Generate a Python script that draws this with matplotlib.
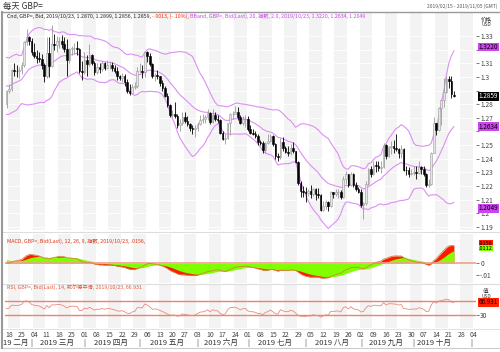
import numpy as np
import pandas as pd
import matplotlib
matplotlib.use('Agg')
import matplotlib.pyplot as plt
from matplotlib.lines import Line2D
from matplotlib.transforms import offset_copy

plt.rcParams['font.family'] = ['Noto Sans CJK SC', 'DejaVu Sans']

# closes before the visible window (Dec 2018 - 14 Feb 2019), only used to warm up the indicators
prev_closes = [
    1.2730, 1.2720, 1.2740, 1.2785, 1.2735,
    1.2560, 1.2490, 1.2635, 1.2650, 1.2580,
    1.2630, 1.2645, 1.2635, 1.2665, 1.2650,
    1.2670, 1.2675, 1.2640, 1.2645, 1.2710,
    1.2755, 1.2755, 1.2615, 1.2640, 1.2725,
    1.2795, 1.2730, 1.2750, 1.2760, 1.2840,
    1.2865, 1.2870, 1.2875, 1.2990, 1.2880,
    1.2880, 1.2960, 1.3040, 1.3070, 1.3195,
    1.3160, 1.3080, 1.3115, 1.3120, 1.3080,
    1.3045, 1.2940, 1.2940, 1.2950, 1.2940,
    1.2880, 1.2935, 1.2890, 1.2810,
]

# daily GBP= candles, 15 Feb 2019 - 23 Oct 2019 (one row per week)
opens = [
    1.2805,
    1.2895, 1.2915, 1.3050, 1.3047, 1.3040,
    1.3050, 1.3085, 1.3255, 1.3295, 1.3260,
    1.3180, 1.3155, 1.3140, 1.3130, 1.3085,
    1.3010, 1.3175, 1.3080, 1.3245, 1.3235,
    1.3260, 1.3265, 1.3245, 1.3205, 1.3125,
    1.3205, 1.3210, 1.3215, 1.3205, 1.3045,
    1.3033, 1.3125, 1.3095, 1.3160, 1.3105,
    1.3035, 1.3070, 1.3060, 1.3100, 1.3065,
    1.3085, 1.3090, 1.3065, 1.3045, 1.3005,
    1.2990, 1.3005, 1.2960, 1.2900, 1.2885,
    1.2925, 1.2935, 1.3040, 1.3045, 1.3035,
    1.3180, 1.3150, 1.3095, 1.3005, 1.3015,
    1.3005, 1.2955, 1.2920, 1.2860, 1.2795,
    1.2720, 1.2725, 1.2710, 1.2650, 1.2660,
    1.2705, 1.2680, 1.2655, 1.2625, 1.2615,
    1.2625, 1.2655, 1.2685, 1.2690, 1.2705,
    1.2735, 1.2670, 1.2720, 1.2690, 1.2685,
    1.2590, 1.2545, 1.2555, 1.2660, 1.2725,
    1.2730, 1.2740, 1.2705, 1.2660, 1.2690,
    1.2695, 1.2620, 1.2590, 1.2585, 1.2565,
    1.2520, 1.2515, 1.2465, 1.2515, 1.2530,
    1.2570, 1.2510, 1.2420, 1.2410, 1.2525,
    1.2480, 1.2450, 1.2440, 1.2480, 1.2455,
    1.2375, 1.2225, 1.2165, 1.2160, 1.2150,
    1.2165, 1.2145, 1.2175, 1.2145, 1.2135,
    1.2025, 1.2055, 1.2080, 1.2055, 1.2155,
    1.2140, 1.2155, 1.2160, 1.2120, 1.2250,
    1.2285, 1.2205, 1.2290, 1.2210, 1.2175,
    1.2160, 1.2060, 1.2075, 1.2215, 1.2325,
    1.2290, 1.2355, 1.2350, 1.2335, 1.2340,
    1.2500, 1.2420, 1.2485, 1.2490, 1.2480,
    1.2475, 1.2445, 1.2475, 1.2320, 1.2315,
    1.2290, 1.2295, 1.2305, 1.2295, 1.2340,
    1.2325, 1.2290, 1.2210, 1.2215, 1.2445,
    1.2665, 1.2610, 1.2770, 1.2830, 1.2890,
    1.2985, 1.2970, 1.2870,
]
highs = [
    1.2905,
    1.2950, 1.3060, 1.3100, 1.3090, 1.3070,
    1.3110, 1.3260, 1.3350, 1.3300, 1.3285,
    1.3250, 1.3200, 1.3180, 1.3170, 1.3100,
    1.3290, 1.3290, 1.3380, 1.3315, 1.3300,
    1.3290, 1.3310, 1.3290, 1.3280, 1.3215,
    1.3230, 1.3250, 1.3265, 1.3210, 1.3120,
    1.3185, 1.3160, 1.3240, 1.3170, 1.3120,
    1.3100, 1.3100, 1.3120, 1.3110, 1.3125,
    1.3120, 1.3110, 1.3090, 1.3070, 1.3015,
    1.3030, 1.3020, 1.2985, 1.2945, 1.2945,
    1.2965, 1.3070, 1.3105, 1.3085, 1.3190,
    1.3190, 1.3175, 1.3105, 1.3030, 1.3050,
    1.3010, 1.2980, 1.2935, 1.2880, 1.2800,
    1.2760, 1.2815, 1.2730, 1.2690, 1.2745,
    1.2745, 1.2710, 1.2665, 1.2645, 1.2650,
    1.2670, 1.2720, 1.2730, 1.2720, 1.2765,
    1.2740, 1.2765, 1.2740, 1.2720, 1.2690,
    1.2605, 1.2585, 1.2665, 1.2735, 1.2750,
    1.2785, 1.2780, 1.2720, 1.2715, 1.2720,
    1.2710, 1.2650, 1.2620, 1.2600, 1.2580,
    1.2535, 1.2530, 1.2525, 1.2580, 1.2580,
    1.2575, 1.2515, 1.2440, 1.2555, 1.2560,
    1.2495, 1.2490, 1.2510, 1.2520, 1.2460,
    1.2385, 1.2235, 1.2200, 1.2190, 1.2175,
    1.2210, 1.2185, 1.2185, 1.2185, 1.2145,
    1.2090, 1.2095, 1.2090, 1.2165, 1.2160,
    1.2175, 1.2180, 1.2170, 1.2275, 1.2310,
    1.2290, 1.2300, 1.2295, 1.2230, 1.2190,
    1.2175, 1.2085, 1.2240, 1.2335, 1.2350,
    1.2385, 1.2385, 1.2385, 1.2380, 1.2515,
    1.2505, 1.2495, 1.2530, 1.2540, 1.2580,
    1.2480, 1.2500, 1.2480, 1.2345, 1.2340,
    1.2325, 1.2345, 1.2345, 1.2380, 1.2350,
    1.2345, 1.2295, 1.2250, 1.2450, 1.2705,
    1.2665, 1.2780, 1.2840, 1.2990, 1.3010,
    1.3010, 1.3010, 1.2899,
]
lows = [
    1.2775,
    1.2880, 1.2900, 1.3010, 1.3000, 1.2995,
    1.3025, 1.3070, 1.3235, 1.3235, 1.3160,
    1.3140, 1.3100, 1.3110, 1.3060, 1.2960,
    1.2990, 1.3003, 1.3070, 1.3195, 1.3180,
    1.3215, 1.3210, 1.3180, 1.3005, 1.3100,
    1.3160, 1.3170, 1.3160, 1.3030, 1.2980,
    1.3020, 1.3010, 1.3080, 1.3085, 1.3015,
    1.3020, 1.3030, 1.3040, 1.3050, 1.3060,
    1.3060, 1.3040, 1.3030, 1.2980, 1.2980,
    1.2960, 1.2935, 1.2880, 1.2865, 1.2880,
    1.2910, 1.2920, 1.3030, 1.2995, 1.3000,
    1.3110, 1.3080, 1.2995, 1.2970, 1.2985,
    1.2935, 1.2895, 1.2855, 1.2780, 1.2705,
    1.2705, 1.2700, 1.2625, 1.2605, 1.2650,
    1.2660, 1.2640, 1.2605, 1.2585, 1.2560,
    1.2600, 1.2650, 1.2660, 1.2665, 1.2685,
    1.2655, 1.2665, 1.2675, 1.2665, 1.2585,
    1.2535, 1.2505, 1.2545, 1.2575, 1.2690,
    1.2725, 1.2685, 1.2655, 1.2650, 1.2630,
    1.2605, 1.2580, 1.2575, 1.2555, 1.2500,
    1.2500, 1.2440, 1.2440, 1.2505, 1.2520,
    1.2495, 1.2400, 1.2380, 1.2400, 1.2460,
    1.2440, 1.2420, 1.2430, 1.2440, 1.2370,
    1.2210, 1.2120, 1.2120, 1.2080, 1.2125,
    1.2110, 1.2125, 1.2100, 1.2115, 1.2015,
    1.2015, 1.2030, 1.2015, 1.2045, 1.2110,
    1.2130, 1.2115, 1.2105, 1.2110, 1.2215,
    1.2190, 1.2200, 1.2190, 1.2165, 1.2150,
    1.2050, 1.1960, 1.2060, 1.2205, 1.2270,
    1.2280, 1.2305, 1.2310, 1.2295, 1.2330,
    1.2400, 1.2410, 1.2435, 1.2440, 1.2460,
    1.2405, 1.2405, 1.2310, 1.2280, 1.2270,
    1.2280, 1.2280, 1.2255, 1.2290, 1.2285,
    1.2275, 1.2195, 1.2195, 1.2205, 1.2440,
    1.2575, 1.2600, 1.2650, 1.2780, 1.2885,
    1.2920, 1.2845, 1.2856,
]
closes = [
    1.2895,
    1.2915, 1.3050, 1.3047, 1.3040, 1.3050,
    1.3085, 1.3255, 1.3295, 1.3260, 1.3180,
    1.3155, 1.3140, 1.3130, 1.3085, 1.3010,
    1.3175, 1.3080, 1.3245, 1.3235, 1.3260,
    1.3265, 1.3245, 1.3205, 1.3125, 1.3205,
    1.3210, 1.3215, 1.3205, 1.3045, 1.3033,
    1.3125, 1.3095, 1.3160, 1.3105, 1.3035,
    1.3070, 1.3060, 1.3100, 1.3065, 1.3085,
    1.3090, 1.3065, 1.3045, 1.3005, 1.2990,
    1.3005, 1.2960, 1.2900, 1.2885, 1.2925,
    1.2935, 1.3040, 1.3045, 1.3035, 1.3180,
    1.3150, 1.3095, 1.3005, 1.3015, 1.3005,
    1.2955, 1.2920, 1.2860, 1.2795, 1.2720,
    1.2725, 1.2710, 1.2650, 1.2660, 1.2705,
    1.2680, 1.2655, 1.2625, 1.2615, 1.2625,
    1.2655, 1.2685, 1.2690, 1.2705, 1.2735,
    1.2670, 1.2720, 1.2690, 1.2685, 1.2590,
    1.2545, 1.2555, 1.2660, 1.2725, 1.2730,
    1.2740, 1.2705, 1.2660, 1.2690, 1.2695,
    1.2620, 1.2590, 1.2585, 1.2565, 1.2520,
    1.2515, 1.2465, 1.2515, 1.2530, 1.2570,
    1.2510, 1.2420, 1.2410, 1.2525, 1.2480,
    1.2450, 1.2440, 1.2480, 1.2455, 1.2375,
    1.2225, 1.2165, 1.2160, 1.2150, 1.2165,
    1.2145, 1.2175, 1.2145, 1.2135, 1.2025,
    1.2055, 1.2080, 1.2055, 1.2155, 1.2140,
    1.2155, 1.2160, 1.2120, 1.2250, 1.2285,
    1.2205, 1.2290, 1.2210, 1.2175, 1.2160,
    1.2060, 1.2075, 1.2215, 1.2325, 1.2290,
    1.2355, 1.2350, 1.2335, 1.2340, 1.2500,
    1.2420, 1.2485, 1.2490, 1.2480, 1.2475,
    1.2445, 1.2475, 1.2320, 1.2315, 1.2290,
    1.2295, 1.2305, 1.2295, 1.2340, 1.2325,
    1.2290, 1.2210, 1.2215, 1.2445, 1.2665,
    1.2610, 1.2770, 1.2830, 1.2890, 1.2985,
    1.2970, 1.2872, 1.2859,
]

# last values as printed on the chart
bband_last = [1.3220, 1.2634, 1.2049]
bband_text = ['1.3220', '1.2634', '1.2049']
last_text = '1.2859'
macd_last = [0.0156, 0.0112]
macd_text = ['.0156', '.0112']
rsi_last = 66.931
rsi_levels = [70, 30]
price_ticks = [1.19, 1.20, 1.21, 1.22, 1.23, 1.24, 1.25, 1.26, 1.27, 1.28, 1.29, 1.30, 1.31, 1.32, 1.33]
month_names = ['19 二月', '2019 三月', '2019 四月', '2019 五月', '2019 六月',
               '2019 七月', '2019 八月', '2019 九月', '2019 十月']

dates = pd.bdate_range('2019-02-15', '2019-10-23')
axis_dates = pd.bdate_range('2019-02-15', '2019-11-05')
assert len(dates) == len(closes) == len(opens) == len(highs) == len(lows)

# indicators
allc = pd.Series(prev_closes + closes)
n0 = len(prev_closes)
mid = allc.ewm(span=20, adjust=False).mean()
sd = allc.rolling(20).std(ddof=0)
upper = (mid + 2 * sd).values[n0:]
lower = (mid - 2 * sd).values[n0:]
mid = mid.values[n0:]
macd = allc.ewm(span=12, adjust=False).mean() - allc.ewm(span=26, adjust=False).mean()
signal = macd.ewm(span=9, adjust=False).mean()
macd = macd.values[n0:]
signal = signal.values[n0:]
delta = allc.diff()
gain = delta.clip(lower=0).ewm(alpha=1 / 14, adjust=False).mean()
loss = (-delta.clip(upper=0)).ewm(alpha=1 / 14, adjust=False).mean()
rsi = (100 - 100 / (1 + gain / loss)).values[n0:]

W, H = 500, 352
fig = plt.figure(figsize=(W / 100, H / 100), dpi=100)


def rect(x0, y0, x1, y1):
    return [x0 / W, 1 - y1 / H, (x1 - x0) / W, (y1 - y0) / H]


def fx(x):
    return x / W


def fy(y):
    return 1 - y / H


ax = fig.add_axes(rect(5, 13, 476, 230))
ax2 = fig.add_axes(rect(5, 234, 476, 283), sharex=ax)
ax3 = fig.add_axes(rect(5, 285, 476, 328), sharex=ax)

x = np.arange(len(dates))
mondays = [i for i, d in enumerate(axis_dates) if d.weekday() == 0]
start = pd.Timestamp('2019-02-18')

for a in (ax, ax2, ax3):
    for i in mondays:
        if ((axis_dates[i] - start).days // 7) % 2 == 0:
            a.axvspan(i - 0.5, i + 4.5, color='#f3f3f3', lw=0, zorder=0)
    for s in a.spines.values():
        s.set_visible(False)
    a.set_xlim(-0.6, 186.8)
    a.tick_params(axis='y', left=False, labelleft=False, right=True, labelright=True,
                  length=2, width=0.5, pad=1, labelsize=4.8, colors='#444444')
    a.tick_params(axis='x', bottom=False, labelbottom=False)

# main price panel
ax.set_ylim(1.18778, 1.34686)
ax.set_yticks(price_ticks)
# labels hidden behind the value boxes are left blank
covered = [p for p in price_ticks
           if min(abs(p - v) for v in bband_last + [closes[-1]]) < 0.0045]
ax.set_yticklabels(['' if p in covered else '%g' % p for p in price_ticks])
for p in price_ticks:
    ax.axhline(p, color='white', lw=0.6, zorder=1)

o = np.array(opens)
h = np.array(highs)
l = np.array(lows)
c = np.array(closes)
up = c >= o
wick_col = np.where(up, '#9a9a9a', '#000000')
ax.vlines(x, l, h, colors=wick_col, lw=0.6, zorder=3)
body = np.maximum(np.abs(c - o), 0.0002)
ax.bar(x[up], body[up], bottom=np.minimum(o, c)[up], width=0.65,
       color='#e6e6e6', edgecolor='#9a9a9a', lw=0.4, zorder=4)
ax.bar(x[~up], body[~up], bottom=np.minimum(o, c)[~up], width=0.65,
       color='#000000', edgecolor='#000000', lw=0.4, zorder=4)

bcol = '#dd8ff5'
for band in (upper, mid, lower):
    ax.plot(x, band, color=bcol, lw=0.8, zorder=2)

ytr = ax.get_yaxis_transform()
ytr_low = offset_copy(ytr, fig=fig, y=-1.5, units='dots')
for v, t in zip(bband_last, bband_text):
    ax.text(1.006, v, t, transform=ytr_low if v < 1.21 else ytr, fontsize=4.6, va='center',
            ha='left', color='black',
            bbox=dict(boxstyle='square,pad=0.06', fc='#cc44ee', ec='none'), zorder=10, clip_on=False)
ax.text(1.006, closes[-1], last_text, transform=ytr, fontsize=4.6, va='center', ha='left', color='white',
        bbox=dict(boxstyle='square,pad=0.06', fc='black', ec='none'), zorder=10, clip_on=False)

# MACD panel
ax2.set_ylim(-0.01711, 0.02588)
ax2.set_yticks([0, -0.01])
ax2.set_yticklabels(['0', '-.01'])
ax2.fill_between(x, 0, macd, color='#ff1a00', lw=0, zorder=2)
ax2.fill_between(x, 0, signal, color='#80ff00', lw=0, zorder=3)
ax2.axhline(0, color='#f5a08a', lw=1.2, zorder=4)
ax2.plot(x, macd, color='#d88040', lw=0.6, zorder=5)
# the two boxes are stacked so they touch (red above green)
ax2.text(1.006, macd_last[0], macd_text[0], transform=ax2.get_yaxis_transform(), fontsize=4,
         va='bottom', ha='left', color='black',
         bbox=dict(boxstyle='square,pad=0.05', fc='#ff1a00', ec='none'), zorder=10, clip_on=False)
ax2.text(1.006, macd_last[0], macd_text[1], transform=ax2.get_yaxis_transform(), fontsize=4,
         va='top', ha='left', color='black',
         bbox=dict(boxstyle='square,pad=0.05', fc='#80ff00', ec='none'), zorder=10, clip_on=False)

# RSI panel
ax3.set_ylim(-9.7, 118.7)
ax3.set_yticks([30])
ax3.set_yticklabels(['30'])
for lv in rsi_levels:
    ax3.axhline(lv, color='#f08070', lw=1.0, zorder=2)
ax3.plot(x, rsi, color='#f08878', lw=0.6, zorder=3)
ax3.text(1.006, rsi_last, '%.3f' % rsi_last, transform=ax3.get_yaxis_transform(), fontsize=4.5,
         va='center', ha='left', color='black',
         bbox=dict(boxstyle='square,pad=0.1', fc='#ff2200', ec='none'), zorder=10, clip_on=False)

# x axis: weekly day numbers and month names
ax3.tick_params(axis='x', bottom=True, labelbottom=True, length=0, pad=2.5,
                labelsize=5, colors='#444444')
ax3.set_xticks(mondays)
ax3.set_xticklabels([axis_dates[i].strftime('%d') for i in mondays])
xtr = ax3.get_xaxis_transform()
months = axis_dates.month
month_starts = [i for i in range(1, len(axis_dates)) if months[i] != months[i - 1]]
for i in month_starts:
    ax3.text(i, -0.34, '|', transform=xtr, fontsize=5.5, ha='center', va='center',
             color='#444444', clip_on=False)
for k, m in enumerate(range(2, 11)):
    idx = [i for i in range(len(dates)) if dates[i].month == m]
    if k == 0:
        ax3.text(month_starts[0] - 1.2, -0.34, month_names[k], transform=xtr, fontsize=5.5,
                 ha='right', va='center', color='#333333', clip_on=False)
    else:
        ax3.text(np.mean(idx), -0.34, month_names[k], transform=xtr, fontsize=5.5,
                 ha='center', va='center', color='#333333', clip_on=False)


def color_line(px, py, parts, size):
    t = fig.text(fx(px), fy(py), parts[0][0], color=parts[0][1], fontsize=size, va='center')
    for s, col in parts[1:]:
        t = ax.annotate(s, xy=(1, 0), xycoords=t, va='bottom', ha='left', color=col,
                        fontsize=size, annotation_clip=False)


fig.text(fx(3), fy(6), '每天 GBP=', fontsize=6, va='center', color='#333333')
fig.text(fx(497), fy(6), '2019/02/15 - 2019/11/05 (GMT)', fontsize=3.5, va='center', ha='right',
         color='#555555')
fig.text(fx(486), fy(19), '价格', fontsize=4, va='center', ha='center', color='#333333')
fig.text(fx(486), fy(25), 'USD', fontsize=3.5, va='center', ha='center', color='#333333')
fig.text(fx(486), fy(291), '值', fontsize=4, va='center', ha='center', color='#333333')
fig.text(fx(486), fy(296.5), 'USD', fontsize=3.5, va='center', ha='center', color='#333333')

color_line(7, 16, [('Cnd, GBP=, Bid, 2019/10/23, 1.2870, 1.2899, 1.2856, 1.2859, ', '#222222'),
                   ('-.0013, (-.10%), ', '#ff2200'),
                   ('BBand, GBP=, Bid(Last), 20, 指数, 2.0, 2019/10/23, 1.3220, 1.2634, 1.2049', '#cc44ee')],
           3.8)
color_line(7, 241, [('MACD, GBP=, Bid(Last), 12, 26, 9, 指数, 2019/10/23, .0156, ', '#dd3311'),
                    ('.0112', '#66dd00')], 3.8)
color_line(7, 287, [('RSI, GBP=, Bid(Last), 14, 威尔德平滑, 2019/10/23, 66.931', '#ee5533')], 3.8)

# frame and panel separators
for y0, col, lw in [(12, '#999999', 1.0), (232, '#dddddd', 0.8), (284, '#dddddd', 0.8),
                    (328.5, '#dddddd', 0.6), (348, '#cccccc', 0.8)]:
    fig.add_artist(Line2D([fx(2), fx(500)], [fy(y0), fy(y0)], color=col, lw=lw))
fig.add_artist(Line2D([fx(1.5), fx(1.5)], [fy(12), fy(348)], color='#999999', lw=1.5))

fig.savefig('out.png', dpi=100, facecolor='white')
